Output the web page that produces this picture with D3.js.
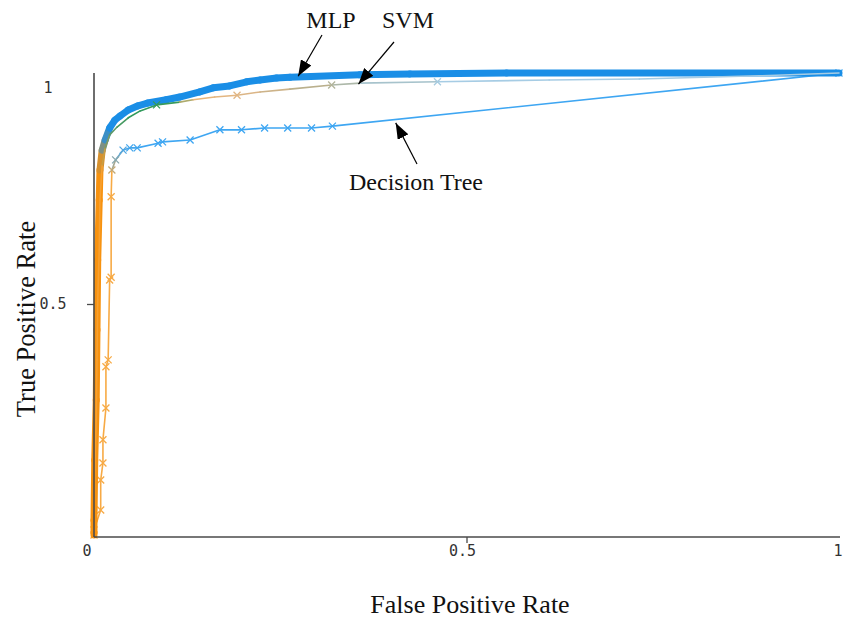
<!DOCTYPE html>
<html>
<head>
<meta charset="utf-8">
<script src="https://cdn.jsdelivr.net/npm/d3@7"></script>
<style>
  html, body { margin: 0; padding: 0; background: #fff; }
  svg { display: block; }
</style>
</head>
<body>
<svg id="chart" width="844" height="622"></svg>
<script>
// ---------- data ----------
const mlpFpr = [0, 0, 0.001, 0.003, 0.004, 0.005, 0.007, 0.008, 0.011, 0.015, 0.021, 0.028, 0.035, 0.046, 0.059, 0.072, 0.097, 0.115, 0.142, 0.160, 0.182, 0.205, 0.223, 0.245, 0.263, 0.357, 0.424, 0.554, 1];
const mlpTpr = [0, 0.032, 0.162, 0.292, 0.444, 0.595, 0.725, 0.790, 0.833, 0.855, 0.881, 0.898, 0.907, 0.920, 0.929, 0.935, 0.942, 0.948, 0.959, 0.968, 0.972, 0.981, 0.985, 0.989, 0.991, 0.996, 0.998, 1.0, 1.0];

const svmFpr = [0, 0, 0.001, 0.003, 0.004, 0.005, 0.007, 0.008, 0.011, 0.015, 0.021, 0.031, 0.046, 0.062, 0.084, 0.115, 0.133, 0.162, 0.192, 0.223, 0.263, 0.319, 0.357, 0.461, 0.611, 0.732, 0.893, 1];
const svmTpr = [0, 0.032, 0.141, 0.249, 0.379, 0.509, 0.617, 0.725, 0.801, 0.838, 0.866, 0.883, 0.903, 0.918, 0.931, 0.937, 0.942, 0.948, 0.952, 0.959, 0.965, 0.974, 0.978, 0.981, 0.985, 0.987, 0.994, 1.0];
const svmMarked = [14, 18, 21, 23];

const dtFpr = [0, 0, 0.009, 0.009, 0.012, 0.012, 0.016, 0.016, 0.019, 0.021, 0.023, 0.023, 0.024, 0.029, 0.039, 0.048, 0.058, 0.086, 0.092, 0.129, 0.169, 0.198, 0.229, 0.260, 0.292, 0.320, 1];
const dtTpr = [0, 0.011, 0.054, 0.119, 0.156, 0.206, 0.275, 0.364, 0.379, 0.552, 0.558, 0.732, 0.790, 0.812, 0.833, 0.838, 0.838, 0.848, 0.851, 0.855, 0.877, 0.877, 0.881, 0.881, 0.881, 0.885, 1.0];

const xTickValues = [0, 0.5, 1];
const xTickLabels = ["0", "0.5", "1"];
const yTickValues = [0.5, 1];
const yTickLabels = ["0.5", "1"];

const xTitle = "False Positive Rate";
const yTitle = "True Positive Rate";
const annotations = [
  { text: "MLP", series: "mlp", fpr: 0.274, tpr: 0.993 },
  { text: "SVM", series: "svm", fpr: 0.355, tpr: 0.976 },
  { text: "Decision Tree", series: "dt", fpr: 0.405, tpr: 0.892 }
];

// ---------- layout ----------
const svg = d3.select("#chart");
const x = d3.scaleLinear().domain([0, 1]).range([94, 839]);
const y = d3.scaleLinear().domain([0, 1]).range([535, 73]);
const axisY = 537;

// colours
const orange = "#f7920f";
const mlpBlue = "#1a8ee6";
const dtBlue = "#3ea6f2";
const dtOrange = "#f7aa45";

const mlpMix = d3.scaleLinear().domain([0.80, 0.88]).range([0, 1]).clamp(true);
const dtMix = d3.scaleLinear().domain([0.77, 0.84]).range([0, 1]).clamp(true);
const svmMix = d3.scaleLinear().domain([0.80, 0.86]).range([0, 1]).clamp(true);
const svmHue = d3.scaleLinear()
  .domain([0.02, 0.05, 0.112, 0.13, 0.19, 0.30, 0.36, 0.47])
  .range(["#6a9a6c", "#2f9a5c", "#3a9a5c", "#e8b476", "#e2b684", "#b6b08e", "#a8bcb8", "#a6cce4"])
  .clamp(true);

function mlpColor(f, t) { return d3.interpolateRgb(orange, mlpBlue)(mlpMix(t)); }
function dtColor(f, t) { return d3.interpolateRgb(dtOrange, dtBlue)(dtMix(t)); }
function svmColor(f, t) { return d3.interpolateRgb("#f7a030", svmHue(f))(svmMix(t)); }

function zipPts(fs, ts) { return fs.map((f, i) => ({ f: f, t: ts[i] })); }

function drawSeries(g, pts, colorFn, width) {
  const segs = d3.pairs(pts);
  g.selectAll("line.seg").data(segs).join("line")
    .attr("class", "seg")
    .attr("x1", d => x(d[0].f)).attr("y1", d => y(d[0].t))
    .attr("x2", d => x(d[1].f)).attr("y2", d => y(d[1].t))
    .attr("stroke", d => colorFn((d[0].f + d[1].f) / 2, (d[0].t + d[1].t) / 2))
    .attr("stroke-width", width)
    .attr("stroke-linecap", "round");
}

function drawMarkers(g, pts, colorFn) {
  g.selectAll("path.mk").data(pts).join("path")
    .attr("class", "mk")
    .attr("transform", d => `translate(${x(d.f)},${y(d.t)})`)
    .attr("d", "M-3.5,-3.5L3.5,3.5M-3.5,3.5L3.5,-3.5")
    .attr("fill", "none")
    .attr("stroke", d => colorFn(d.f, d.t))
    .attr("stroke-width", 1.3);
}

const mlpPts = zipPts(mlpFpr, mlpTpr);
const svmPts = zipPts(svmFpr, svmTpr);
const dtPts = zipPts(dtFpr, dtTpr);

// Decision tree
const gDt = svg.append("g");
drawSeries(gDt, dtPts, dtColor, 1.6);
drawMarkers(gDt, dtPts, dtColor);

// MLP (thick)
const gMlp = svg.append("g");
drawSeries(gMlp, mlpPts, mlpColor, 7);

// SVM (thin, on top)
const gSvm = svg.append("g");
drawSeries(gSvm, svmPts, svmColor, 1.6);
drawMarkers(gSvm, svmMarked.map(i => svmPts[i]), svmColor);

// ---------- axes ----------
const axisColor = "#4a4a4a";
const gx = svg.append("g").attr("transform", `translate(0,${axisY})`)
  .call(d3.axisBottom(x).tickValues([0.5]).tickSize(6).tickFormat(""));
gx.select(".domain").attr("d", `M${x(0)},0H${x(1) + 1}`).attr("stroke", axisColor).attr("stroke-width", 1.6);
gx.selectAll(".tick line").attr("stroke", axisColor).attr("stroke-width", 1.3);

const gy = svg.append("g").attr("transform", `translate(${x(0)},0)`)
  .call(d3.axisLeft(y).tickValues([0.5]).tickSize(7).tickFormat(""));
gy.select(".domain").attr("d", `M0,${y(1)}V${axisY}`).attr("stroke", axisColor).attr("stroke-width", 1.6);
gy.selectAll(".tick line").attr("stroke", axisColor).attr("stroke-width", 1.3);

const monoFont = "'DejaVu Sans Mono', 'Liberation Mono', monospace";
svg.append("g").selectAll("text").data(xTickValues).join("text")
  .attr("x", (d, i) => i === 0 ? x(d) - 7 : (i === xTickValues.length - 1 ? x(d) - 1 : x(d) - 4))
  .attr("y", axisY + 19)
  .attr("text-anchor", "middle")
  .attr("font-family", monoFont).attr("font-size", 15).attr("fill", "#333")
  .text((d, i) => xTickLabels[i]);

svg.append("g").selectAll("text").data(yTickValues).join("text")
  .attr("x", (d, i) => d === 1 ? 48 : 53)
  .attr("y", d => d === 1 ? y(d) + 20 : y(d) + 5)
  .attr("text-anchor", "middle")
  .attr("font-family", monoFont).attr("font-size", 15).attr("fill", "#333")
  .text((d, i) => yTickLabels[i]);

// axis titles
const serif = "'Liberation Serif', 'Times New Roman', serif";
svg.append("text")
  .attr("x", 470).attr("y", 613)
  .attr("text-anchor", "middle")
  .attr("font-family", serif).attr("font-size", 26).attr("fill", "#111")
  .text(xTitle);
svg.append("text")
  .attr("transform", "translate(35,319) rotate(-90)")
  .attr("text-anchor", "middle")
  .attr("font-family", serif).attr("font-size", 26.5).attr("fill", "#111")
  .text(yTitle);

// ---------- annotations ----------
const defs = svg.append("defs");
defs.append("marker").attr("id", "arrow")
  .attr("viewBox", "0 -6 16 12").attr("refX", 16).attr("refY", 0)
  .attr("markerWidth", 16).attr("markerHeight", 12)
  .attr("markerUnits", "userSpaceOnUse").attr("orient", "auto")
  .append("path").attr("d", "M0,-6L16,0L0,6Z").attr("fill", "#000");

const annLayout = {
  mlp: { tx: 331, ty: 28, x0: 322, y0: 35 },
  svm: { tx: 408, ty: 28, x0: 394, y0: 42 },
  dt: { tx: 416, ty: 190, x0: 417, y0: 164 }
};
const gAnn = svg.append("g");
annotations.forEach(a => {
  const L = annLayout[a.series];
  gAnn.append("line")
    .attr("x1", L.x0).attr("y1", L.y0)
    .attr("x2", x(a.fpr)).attr("y2", y(a.tpr))
    .attr("stroke", "#000").attr("stroke-width", 1.2)
    .attr("marker-end", "url(#arrow)");
  gAnn.append("text")
    .attr("x", L.tx).attr("y", L.ty)
    .attr("text-anchor", "middle")
    .attr("font-family", serif).attr("font-size", 24).attr("fill", "#111")
    .text(a.text);
});
</script>
</body>
</html>
